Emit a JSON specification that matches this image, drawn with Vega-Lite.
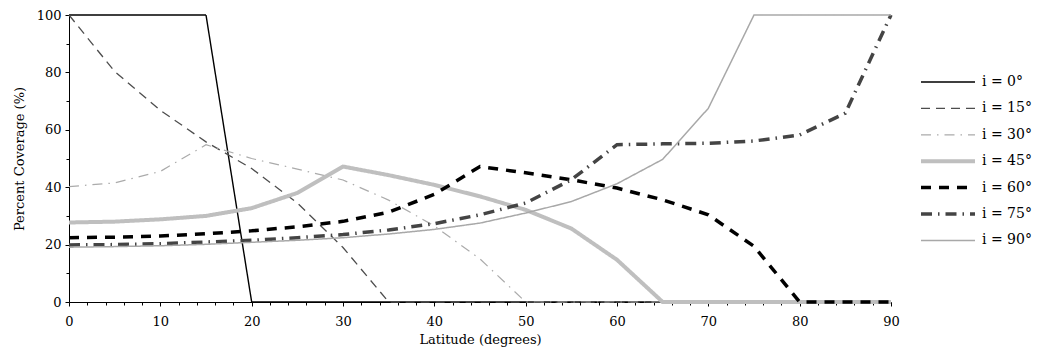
{
  "$schema": "https://vega.github.io/schema/vega-lite/v6.json",
  "autosize": "none",
  "width": 822,
  "height": 287,
  "padding": {"left": 69, "top": 15, "right": 147, "bottom": 58},
  "background": "white",
  "config": {
    "view": {"stroke": null},
    "font": "DejaVu Serif",
    "axis": {
      "labelFont": "DejaVu Serif",
      "titleFont": "DejaVu Serif",
      "labelFontSize": 13,
      "titleFontSize": 13,
      "titleFontWeight": "normal",
      "labelColor": "black",
      "titleColor": "black",
      "domainColor": "black",
      "tickColor": "black",
      "grid": false
    },
    "legend": {
      "orient": "none",
      "legendX": 850,
      "legendY": 59,
      "padding": 0,
      "symbolSize": 2916,
      "symbolType": "stroke",
      "labelFont": "DejaVu Serif",
      "labelFontSize": 14,
      "labelColor": "black",
      "labelOffset": 5,
      "clipHeight": 16,
      "rowPadding": 10.4
    }
  },
  "data": {
    "values": [
      {"lat": 0, "cov": 100, "s": "i = 0°"},
      {"lat": 5, "cov": 100, "s": "i = 0°"},
      {"lat": 10, "cov": 100, "s": "i = 0°"},
      {"lat": 15, "cov": 100, "s": "i = 0°"},
      {"lat": 20, "cov": 0, "s": "i = 0°"},
      {"lat": 25, "cov": 0, "s": "i = 0°"},
      {"lat": 30, "cov": 0, "s": "i = 0°"},
      {"lat": 35, "cov": 0, "s": "i = 0°"},
      {"lat": 40, "cov": 0, "s": "i = 0°"},
      {"lat": 45, "cov": 0, "s": "i = 0°"},
      {"lat": 50, "cov": 0, "s": "i = 0°"},
      {"lat": 55, "cov": 0, "s": "i = 0°"},
      {"lat": 60, "cov": 0, "s": "i = 0°"},
      {"lat": 65, "cov": 0, "s": "i = 0°"},
      {"lat": 70, "cov": 0, "s": "i = 0°"},
      {"lat": 75, "cov": 0, "s": "i = 0°"},
      {"lat": 80, "cov": 0, "s": "i = 0°"},
      {"lat": 85, "cov": 0, "s": "i = 0°"},
      {"lat": 90, "cov": 0, "s": "i = 0°"},

      {"lat": 0, "cov": 100, "s": "i = 15°"},
      {"lat": 5, "cov": 80.3, "s": "i = 15°"},
      {"lat": 10, "cov": 66.8, "s": "i = 15°"},
      {"lat": 15, "cov": 55.8, "s": "i = 15°"},
      {"lat": 20, "cov": 46.5, "s": "i = 15°"},
      {"lat": 25, "cov": 34.5, "s": "i = 15°"},
      {"lat": 30, "cov": 19, "s": "i = 15°"},
      {"lat": 35, "cov": 0, "s": "i = 15°"},
      {"lat": 40, "cov": 0, "s": "i = 15°"},
      {"lat": 45, "cov": 0, "s": "i = 15°"},
      {"lat": 50, "cov": 0, "s": "i = 15°"},
      {"lat": 55, "cov": 0, "s": "i = 15°"},
      {"lat": 60, "cov": 0, "s": "i = 15°"},
      {"lat": 65, "cov": 0, "s": "i = 15°"},
      {"lat": 70, "cov": 0, "s": "i = 15°"},
      {"lat": 75, "cov": 0, "s": "i = 15°"},
      {"lat": 80, "cov": 0, "s": "i = 15°"},
      {"lat": 85, "cov": 0, "s": "i = 15°"},
      {"lat": 90, "cov": 0, "s": "i = 15°"},

      {"lat": 0, "cov": 40.2, "s": "i = 30°"},
      {"lat": 5, "cov": 41.5, "s": "i = 30°"},
      {"lat": 10, "cov": 45.5, "s": "i = 30°"},
      {"lat": 15, "cov": 54.8, "s": "i = 30°"},
      {"lat": 20, "cov": 50, "s": "i = 30°"},
      {"lat": 25, "cov": 46.3, "s": "i = 30°"},
      {"lat": 30, "cov": 42.5, "s": "i = 30°"},
      {"lat": 35, "cov": 35.5, "s": "i = 30°"},
      {"lat": 40, "cov": 26.5, "s": "i = 30°"},
      {"lat": 45, "cov": 15, "s": "i = 30°"},
      {"lat": 50, "cov": 0, "s": "i = 30°"},
      {"lat": 55, "cov": 0, "s": "i = 30°"},
      {"lat": 60, "cov": 0, "s": "i = 30°"},
      {"lat": 65, "cov": 0, "s": "i = 30°"},
      {"lat": 70, "cov": 0, "s": "i = 30°"},
      {"lat": 75, "cov": 0, "s": "i = 30°"},
      {"lat": 80, "cov": 0, "s": "i = 30°"},
      {"lat": 85, "cov": 0, "s": "i = 30°"},
      {"lat": 90, "cov": 0, "s": "i = 30°"},

      {"lat": 0, "cov": 27.7, "s": "i = 45°"},
      {"lat": 5, "cov": 28, "s": "i = 45°"},
      {"lat": 10, "cov": 28.8, "s": "i = 45°"},
      {"lat": 15, "cov": 30, "s": "i = 45°"},
      {"lat": 20, "cov": 32.7, "s": "i = 45°"},
      {"lat": 25, "cov": 38, "s": "i = 45°"},
      {"lat": 30, "cov": 47.2, "s": "i = 45°"},
      {"lat": 35, "cov": 44.2, "s": "i = 45°"},
      {"lat": 40, "cov": 40.8, "s": "i = 45°"},
      {"lat": 45, "cov": 36.8, "s": "i = 45°"},
      {"lat": 50, "cov": 32.1, "s": "i = 45°"},
      {"lat": 55, "cov": 25.6, "s": "i = 45°"},
      {"lat": 60, "cov": 14.7, "s": "i = 45°"},
      {"lat": 65, "cov": 0, "s": "i = 45°"},
      {"lat": 70, "cov": 0, "s": "i = 45°"},
      {"lat": 75, "cov": 0, "s": "i = 45°"},
      {"lat": 80, "cov": 0, "s": "i = 45°"},
      {"lat": 85, "cov": 0, "s": "i = 45°"},
      {"lat": 90, "cov": 0, "s": "i = 45°"},

      {"lat": 0, "cov": 22.4, "s": "i = 60°"},
      {"lat": 5, "cov": 22.6, "s": "i = 60°"},
      {"lat": 10, "cov": 23, "s": "i = 60°"},
      {"lat": 15, "cov": 23.8, "s": "i = 60°"},
      {"lat": 20, "cov": 24.8, "s": "i = 60°"},
      {"lat": 25, "cov": 26.2, "s": "i = 60°"},
      {"lat": 30, "cov": 28.1, "s": "i = 60°"},
      {"lat": 35, "cov": 31.3, "s": "i = 60°"},
      {"lat": 40, "cov": 37.5, "s": "i = 60°"},
      {"lat": 45, "cov": 47.2, "s": "i = 60°"},
      {"lat": 50, "cov": 45, "s": "i = 60°"},
      {"lat": 55, "cov": 42.6, "s": "i = 60°"},
      {"lat": 60, "cov": 39.7, "s": "i = 60°"},
      {"lat": 65, "cov": 35.6, "s": "i = 60°"},
      {"lat": 70, "cov": 30.4, "s": "i = 60°"},
      {"lat": 75, "cov": 19.4, "s": "i = 60°"},
      {"lat": 80, "cov": 0, "s": "i = 60°"},
      {"lat": 85, "cov": 0, "s": "i = 60°"},
      {"lat": 90, "cov": 0, "s": "i = 60°"},

      {"lat": 0, "cov": 19.9, "s": "i = 75°"},
      {"lat": 5, "cov": 20, "s": "i = 75°"},
      {"lat": 10, "cov": 20.3, "s": "i = 75°"},
      {"lat": 15, "cov": 20.9, "s": "i = 75°"},
      {"lat": 20, "cov": 21.5, "s": "i = 75°"},
      {"lat": 25, "cov": 22.4, "s": "i = 75°"},
      {"lat": 30, "cov": 23.5, "s": "i = 75°"},
      {"lat": 35, "cov": 25.1, "s": "i = 75°"},
      {"lat": 40, "cov": 27.3, "s": "i = 75°"},
      {"lat": 45, "cov": 30.4, "s": "i = 75°"},
      {"lat": 50, "cov": 34.5, "s": "i = 75°"},
      {"lat": 55, "cov": 42.6, "s": "i = 75°"},
      {"lat": 60, "cov": 54.8, "s": "i = 75°"},
      {"lat": 65, "cov": 55.1, "s": "i = 75°"},
      {"lat": 70, "cov": 55.3, "s": "i = 75°"},
      {"lat": 75, "cov": 56.1, "s": "i = 75°"},
      {"lat": 80, "cov": 58.2, "s": "i = 75°"},
      {"lat": 85, "cov": 65.8, "s": "i = 75°"},
      {"lat": 90, "cov": 100, "s": "i = 75°"},

      {"lat": 0, "cov": 19.1, "s": "i = 90°"},
      {"lat": 5, "cov": 19.3, "s": "i = 90°"},
      {"lat": 10, "cov": 19.6, "s": "i = 90°"},
      {"lat": 15, "cov": 20.1, "s": "i = 90°"},
      {"lat": 20, "cov": 20.8, "s": "i = 90°"},
      {"lat": 25, "cov": 21.5, "s": "i = 90°"},
      {"lat": 30, "cov": 22.4, "s": "i = 90°"},
      {"lat": 35, "cov": 23.7, "s": "i = 90°"},
      {"lat": 40, "cov": 25.3, "s": "i = 90°"},
      {"lat": 45, "cov": 27.5, "s": "i = 90°"},
      {"lat": 50, "cov": 31, "s": "i = 90°"},
      {"lat": 55, "cov": 35, "s": "i = 90°"},
      {"lat": 60, "cov": 41.2, "s": "i = 90°"},
      {"lat": 65, "cov": 49.7, "s": "i = 90°"},
      {"lat": 70, "cov": 67.5, "s": "i = 90°"},
      {"lat": 75, "cov": 100, "s": "i = 90°"},
      {"lat": 80, "cov": 100, "s": "i = 90°"},
      {"lat": 85, "cov": 100, "s": "i = 90°"},
      {"lat": 90, "cov": 100, "s": "i = 90°"}
    ]
  },
  "mark": {"type": "line", "clip": false},
  "encoding": {
    "x": {
      "field": "lat",
      "type": "quantitative",
      "scale": {"domain": [0, 90], "nice": false},
      "axis": {
        "title": "Latitude (degrees)",
        "values": [0,2,4,6,8,10,12,14,16,18,20,22,24,26,28,30,32,34,36,38,40,42,44,46,48,50,52,54,56,58,60,62,64,66,68,70,72,74,76,78,80,82,84,86,88,90],
        "labelExpr": "datum.value % 10 == 0 ? datum.label : ''",
        "tickSize": {"condition": {"test": "datum.value % 10 == 0", "value": 4}, "value": 3},
        "labelPadding": 9,
        "titlePadding": 5,
        "labelFlush": false,
        "labelOverlap": false
      }
    },
    "y": {
      "field": "cov",
      "type": "quantitative",
      "scale": {"domain": [0, 100], "nice": false},
      "axis": {
        "title": "Percent Coverage (%)",
        "values": [0,10,20,30,40,50,60,70,80,90,100],
        "labelExpr": "datum.value % 20 == 0 ? datum.label : ''",
        "tickSize": {"condition": {"test": "datum.value % 20 == 0", "value": 4}, "value": 3},
        "labelPadding": 4,
        "titlePadding": 10,
        "labelFlush": false,
        "labelOverlap": false
      }
    },
    "detail": {"field": "s", "type": "nominal"},
    "color": {
      "field": "s",
      "type": "nominal",
      "scale": {
        "domain": ["i = 0°", "i = 15°", "i = 30°", "i = 45°", "i = 60°", "i = 75°", "i = 90°"],
        "range": ["#000000", "#4d4d4d", "#ababab", "#bfbfbf", "#000000", "#444444", "#a8a8a8"]
      },
      "legend": {"title": null}
    },
    "strokeDash": {
      "field": "s",
      "type": "nominal",
      "scale": {
        "domain": ["i = 0°", "i = 15°", "i = 30°", "i = 45°", "i = 60°", "i = 75°", "i = 90°"],
        "range": [[1, 0], [9, 6], [10, 6, 1.5, 6], [1, 0], [10, 8], [11, 6, 1.5, 6], [1, 0]]
      },
      "legend": {"title": null}
    },
    "strokeWidth": {
      "field": "s",
      "type": "nominal",
      "scale": {
        "type": "ordinal",
        "domain": ["i = 0°", "i = 15°", "i = 30°", "i = 45°", "i = 60°", "i = 75°", "i = 90°"],
        "range": [1.4, 1.3, 1.2, 4, 3.5, 3.5, 1.5]
      },
      "legend": {"title": null}
    }
  }
}
